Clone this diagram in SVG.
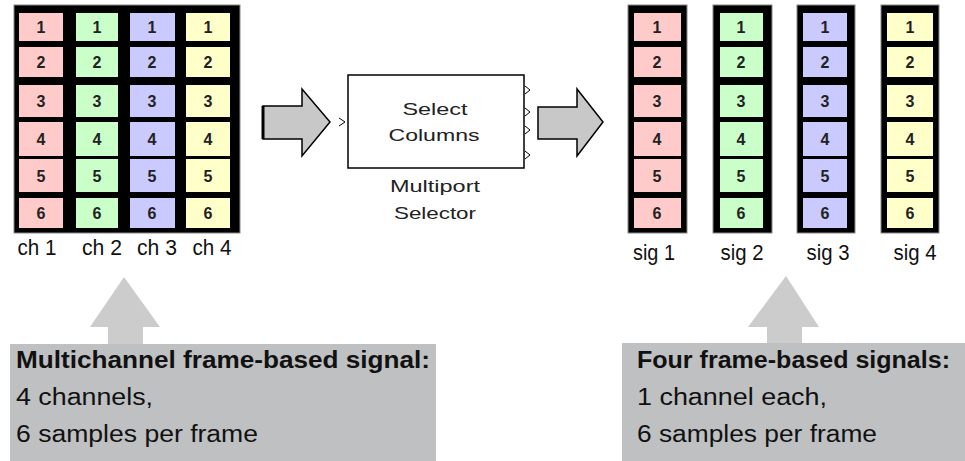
<svg xmlns="http://www.w3.org/2000/svg" width="965" height="461" viewBox="0 0 965 461">
<style>
.frame{fill:#000;stroke:#888;stroke-width:1}
.r{fill:#ffcaca}.g{fill:#caffca}.b{fill:#cacaff}.y{fill:#ffffca}
.num{font-family:"Liberation Sans",Arial,sans-serif;font-size:16px;font-weight:bold;fill:#222;text-anchor:middle}
.lbl{font-family:"Liberation Sans",Arial,sans-serif;font-size:22px;fill:#111;text-anchor:middle}
.blk{font-family:"Liberation Sans",Arial,sans-serif;font-size:17px;fill:#222;text-anchor:middle}
.note{font-family:"Liberation Sans",Arial,sans-serif;font-size:23px;fill:#111}
.bold{font-weight:bold}
.bigarrow{fill:#c8c8c8;stroke:#000;stroke-width:1.5}
.uparrow{fill:#cccccc}
.notebox{fill:#bfc0c2}
.port{fill:none;stroke:#000;stroke-width:1}
</style>

<!-- Left multichannel matrix -->
<g id="matrix">
<rect class="frame" x="14" y="5" width="226" height="228"/>
<g id="ch1">
<rect class="r" x="19" y="13" width="44" height="28"/><rect class="r" x="19" y="47" width="44" height="30"/><rect class="r" x="19" y="85" width="44" height="32"/><rect class="r" x="19" y="122" width="44" height="34"/><rect class="r" x="19" y="159" width="44" height="33"/><rect class="r" x="19" y="198" width="44" height="30"/>
<text class="num" x="41" y="33">1</text><text class="num" x="41" y="68">2</text><text class="num" x="41" y="107">3</text><text class="num" x="41" y="145">4</text><text class="num" x="41" y="182">5</text><text class="num" x="41" y="219">6</text>
</g>
<g id="ch2">
<rect class="g" x="76" y="13" width="42" height="28"/><rect class="g" x="76" y="47" width="42" height="30"/><rect class="g" x="76" y="85" width="42" height="32"/><rect class="g" x="76" y="122" width="42" height="34"/><rect class="g" x="76" y="159" width="42" height="33"/><rect class="g" x="76" y="198" width="42" height="30"/>
<text class="num" x="97" y="33">1</text><text class="num" x="97" y="68">2</text><text class="num" x="97" y="107">3</text><text class="num" x="97" y="145">4</text><text class="num" x="97" y="182">5</text><text class="num" x="97" y="219">6</text>
</g>
<g id="ch3">
<rect class="b" x="130" y="13" width="45" height="28"/><rect class="b" x="130" y="47" width="45" height="30"/><rect class="b" x="130" y="85" width="45" height="32"/><rect class="b" x="130" y="122" width="45" height="34"/><rect class="b" x="130" y="159" width="45" height="33"/><rect class="b" x="130" y="198" width="45" height="30"/>
<text class="num" x="152" y="33">1</text><text class="num" x="152" y="68">2</text><text class="num" x="152" y="107">3</text><text class="num" x="152" y="145">4</text><text class="num" x="152" y="182">5</text><text class="num" x="152" y="219">6</text>
</g>
<g id="ch4">
<rect class="y" x="186" y="13" width="44" height="28"/><rect class="y" x="186" y="47" width="44" height="30"/><rect class="y" x="186" y="85" width="44" height="32"/><rect class="y" x="186" y="122" width="44" height="34"/><rect class="y" x="186" y="159" width="44" height="33"/><rect class="y" x="186" y="198" width="44" height="30"/>
<text class="num" x="208" y="33">1</text><text class="num" x="208" y="68">2</text><text class="num" x="208" y="107">3</text><text class="num" x="208" y="145">4</text><text class="num" x="208" y="182">5</text><text class="num" x="208" y="219">6</text>
</g>
<text class="lbl" x="37" y="255" textLength="39" lengthAdjust="spacingAndGlyphs">ch 1</text>
<text class="lbl" x="102" y="255" textLength="40" lengthAdjust="spacingAndGlyphs">ch 2</text>
<text class="lbl" x="157" y="255" textLength="40" lengthAdjust="spacingAndGlyphs">ch 3</text>
<text class="lbl" x="212" y="255" textLength="39" lengthAdjust="spacingAndGlyphs">ch 4</text>
</g>

<!-- Multiport Selector block -->
<g id="selector">
<rect x="348" y="75" width="176" height="93" fill="#fff" stroke="#000" stroke-width="1.5"/>
<path class="port" d="M339,118 L345,122 L339,126"/>
<path class="port" d="M525,86 L530,90 L525,94"/>
<path class="port" d="M525,108 L530,112 L525,116"/>
<path class="port" d="M525,126 L530,130 L525,134"/>
<path class="port" d="M525,151 L530,155 L525,159"/>
<text class="blk" x="435" y="115" textLength="65" lengthAdjust="spacingAndGlyphs">Select</text>
<text class="blk" x="434" y="141" textLength="91" lengthAdjust="spacingAndGlyphs">Columns</text>
<text class="blk" x="435" y="192" textLength="90" lengthAdjust="spacingAndGlyphs">Multiport</text>
<text class="blk" x="435" y="219" textLength="82" lengthAdjust="spacingAndGlyphs">Selector</text>
</g>

<!-- Right signals -->
<g id="sig1">
<rect class="frame" x="628" y="5" width="59" height="228"/>
<rect class="r" x="634" y="13" width="47" height="28"/><rect class="r" x="634" y="47" width="47" height="30"/><rect class="r" x="634" y="85" width="47" height="32"/><rect class="r" x="634" y="122" width="47" height="34"/><rect class="r" x="634" y="159" width="47" height="33"/><rect class="r" x="634" y="198" width="47" height="30"/>
<text class="num" x="657" y="33">1</text><text class="num" x="657" y="68">2</text><text class="num" x="657" y="107">3</text><text class="num" x="657" y="145">4</text><text class="num" x="657" y="182">5</text><text class="num" x="657" y="219">6</text>
<text class="lbl" x="654" y="260" textLength="42" lengthAdjust="spacingAndGlyphs">sig 1</text>
</g>
<g id="sig2">
<rect class="frame" x="713" y="5" width="59" height="228"/>
<rect class="g" x="720" y="13" width="43" height="28"/><rect class="g" x="720" y="47" width="43" height="30"/><rect class="g" x="720" y="85" width="43" height="32"/><rect class="g" x="720" y="122" width="43" height="34"/><rect class="g" x="720" y="159" width="43" height="33"/><rect class="g" x="720" y="198" width="43" height="30"/>
<text class="num" x="741" y="33">1</text><text class="num" x="741" y="68">2</text><text class="num" x="741" y="107">3</text><text class="num" x="741" y="145">4</text><text class="num" x="741" y="182">5</text><text class="num" x="741" y="219">6</text>
<text class="lbl" x="742" y="260" textLength="43" lengthAdjust="spacingAndGlyphs">sig 2</text>
</g>
<g id="sig3">
<rect class="frame" x="797" y="5" width="58" height="228"/>
<rect class="b" x="803" y="13" width="44" height="28"/><rect class="b" x="803" y="47" width="44" height="30"/><rect class="b" x="803" y="85" width="44" height="32"/><rect class="b" x="803" y="122" width="44" height="34"/><rect class="b" x="803" y="159" width="44" height="33"/><rect class="b" x="803" y="198" width="44" height="30"/>
<text class="num" x="825" y="33">1</text><text class="num" x="825" y="68">2</text><text class="num" x="825" y="107">3</text><text class="num" x="825" y="145">4</text><text class="num" x="825" y="182">5</text><text class="num" x="825" y="219">6</text>
<text class="lbl" x="828" y="260" textLength="43" lengthAdjust="spacingAndGlyphs">sig 3</text>
</g>
<g id="sig4">
<rect class="frame" x="881" y="5" width="58" height="228"/>
<rect class="y" x="887" y="13" width="46" height="28"/><rect class="y" x="887" y="47" width="46" height="30"/><rect class="y" x="887" y="85" width="46" height="32"/><rect class="y" x="887" y="122" width="46" height="34"/><rect class="y" x="887" y="159" width="46" height="33"/><rect class="y" x="887" y="198" width="46" height="30"/>
<text class="num" x="910" y="33">1</text><text class="num" x="910" y="68">2</text><text class="num" x="910" y="107">3</text><text class="num" x="910" y="145">4</text><text class="num" x="910" y="182">5</text><text class="num" x="910" y="219">6</text>
<text class="lbl" x="915" y="260" textLength="43" lengthAdjust="spacingAndGlyphs">sig 4</text>
</g>

<!-- Notes -->
<g id="note-left">
<rect class="notebox" x="10" y="344" width="426" height="117"/>
<text class="note bold" x="16" y="368" textLength="414" lengthAdjust="spacingAndGlyphs">Multichannel frame-based signal:</text>
<text class="note" x="16" y="405" textLength="137" lengthAdjust="spacingAndGlyphs">4 channels,</text>
<text class="note" x="16" y="442" textLength="242" lengthAdjust="spacingAndGlyphs">6 samples per frame</text>
</g>
<g id="note-right">
<rect class="notebox" x="622" y="343" width="343" height="118"/>
<text class="note bold" x="637" y="368" textLength="313" lengthAdjust="spacingAndGlyphs">Four frame-based signals:</text>
<text class="note" x="637" y="405" textLength="190" lengthAdjust="spacingAndGlyphs">1 channel each,</text>
<text class="note" x="637" y="442" textLength="240" lengthAdjust="spacingAndGlyphs">6 samples per frame</text>
</g>

<!-- Connectors -->
<g id="connectors">
<polygon class="bigarrow" points="263,106 302,106 302,89 330,122 302,156 302,139 263,139"/>
<line x1="263" y1="106" x2="263" y2="139" stroke="#000" stroke-width="3"/>
<polygon class="bigarrow" points="538,107 577,107 577,89 603,122 577,156 577,139 538,139"/>
<polygon class="uparrow" points="108,344 108,327 90,327 124,277 160,327 143,327 143,344"/>
<polygon class="uparrow" points="767,343 767,327 748,327 786,276 819,327 802,327 802,343"/>
</g>
</svg>
